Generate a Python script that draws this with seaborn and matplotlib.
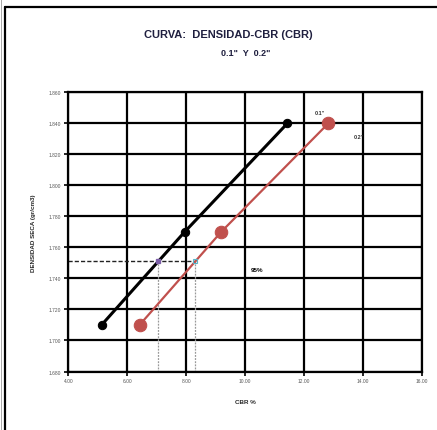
import numpy as np
import pandas as pd
import matplotlib
matplotlib.use("Agg")
import matplotlib.pyplot as plt
import seaborn as sns
from matplotlib.lines import Line2D

# Data
cbr_01 = [5.13, 7.95, 11.44]      # CBR % at 0.1"
cbr_02 = [6.42, 9.19, 12.83]      # CBR % at 0.2"
density = [1.710, 1.770, 1.840]   # dry density (gr/cm3)
density_95 = 1.751                # 95% of max dry density

x_ticks = [4, 6, 8, 10, 12, 14, 16]
y_ticks = [1.680, 1.700, 1.720, 1.740, 1.760, 1.780, 1.800, 1.820, 1.840, 1.860]

# CBR at the 95% density for both curves
cbr95_01 = np.interp(density_95, density, cbr_01)
cbr95_02 = np.interp(density_95, density, cbr_02)

df = pd.DataFrame({
    "cbr": cbr_01 + cbr_02,
    "dens": density + density,
    "serie": ['0.1"'] * 3 + ['0.2"'] * 3,
})

sns.set_style("white")
plt.rcParams['font.family'] = ['Liberation Sans', 'DejaVu Sans']

fig = plt.figure(figsize=(4.37, 4.31), dpi=100)
ax = fig.add_axes([0.1563, 0.1357, 0.8087, 0.6478])

# grid
for xt in x_ticks:
    ax.axvline(xt, color="black", lw=1.6, zorder=1)
for yt in y_ticks:
    ax.axhline(yt, color="black", lw=1.6, zorder=1)

# 95% guide lines
ax.plot([x_ticks[0], cbr95_02], [density_95, density_95], color="#222222",
        lw=1.0, ls=(0, (3, 1.5)), zorder=2)
for xv in (cbr95_01, cbr95_02):
    ax.plot([xv, xv], [y_ticks[0], density_95], color="#999999",
            lw=0.9, ls=(0, (1.5, 1)), zorder=2)
ax.plot([cbr95_01], [density_95], marker="s", ms=3, color="#7b5ea7", zorder=4)
ax.plot([cbr95_02], [density_95], marker="s", ms=3, mfc="none",
        mec="#5ab4c8", mew=0.8, zorder=4)

sns.lineplot(data=df[df.serie == '0.1"'], x="cbr", y="dens", ax=ax,
             color="black", lw=2.2, marker="o", ms=6, mec="black",
             zorder=3, legend=False)
sns.lineplot(data=df[df.serie == '0.2"'], x="cbr", y="dens", ax=ax,
             color="#c0504d", lw=1.6, marker="o", ms=9, mec="#c0504d",
             zorder=3, legend=False)

ax.annotate('0.1"', (cbr_01[-1], density[-1]), xytext=(27, 11),
            textcoords="offset pixels", fontsize=4, fontweight="bold",
            color="#333333", ha="left", va="center")
ax.annotate('0.2"', (cbr_02[-1], density[-1]), xytext=(25, -13),
            textcoords="offset pixels", fontsize=4, fontweight="bold",
            color="#333333", ha="left", va="center")
ax.annotate("95%", (cbr95_02, density_95), xytext=(55, -8),
            textcoords="offset pixels", fontsize=4.5, fontweight="bold",
            color="black", ha="left", va="center")

ax.set_xlim(x_ticks[0], x_ticks[-1])
ax.set_ylim(y_ticks[0], y_ticks[-1])
ax.set_xticks(x_ticks)
ax.set_yticks(y_ticks)
ax.set_xticklabels([f"{v:.2f}" for v in x_ticks], fontsize=3.5, color="#555555")
ax.set_yticklabels([f"{v:.3f}" for v in y_ticks], fontsize=3.5, color="#555555")
ax.tick_params(axis="both", direction="out", length=3, width=1.2, pad=2,
               color="black", bottom=True, left=True)
for sp in ax.spines.values():
    sp.set_color("black")
    sp.set_linewidth(1.6)

ax.set_xlabel("CBR %", fontsize=4.5, fontweight="bold", labelpad=11)
ax.set_ylabel("DENSIDAD SECA (gr/cm3)", fontsize=4.5, fontweight="bold",
              labelpad=9.5)

fig.text(0.522, 0.918, "CURVA:  DENSIDAD-CBR (CBR)", fontsize=8,
         fontweight="bold", color="#1f1f3f", ha="center", va="center")
fig.text(0.563, 0.876, '0.1"  Y  0.2"', fontsize=6.5, fontweight="bold",
         color="#1f1f3f", ha="center", va="center")

# outer frame
fig.add_artist(Line2D([0.012, 1.0], [0.981, 0.981], color="black", lw=1.6,
                      transform=fig.transFigure))
fig.add_artist(Line2D([0.012, 0.012], [0.0, 0.981], color="black", lw=1.6,
                      transform=fig.transFigure))
fig.add_artist(Line2D([0.002, 0.002], [0.0, 1.0], color="#999999", lw=0.6,
                      transform=fig.transFigure))

fig.savefig("out.png", dpi=100)
